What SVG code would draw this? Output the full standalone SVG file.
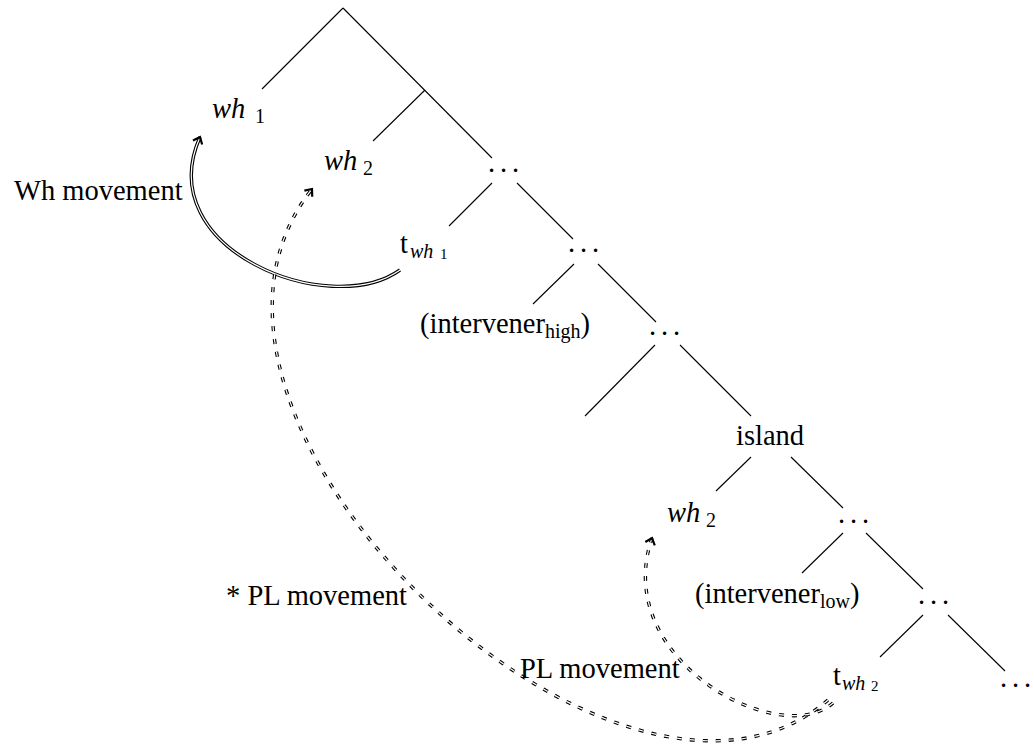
<svg xmlns="http://www.w3.org/2000/svg" width="1034" height="752" viewBox="0 0 1034 752">
<defs>
<style>
.t{font-family:'Liberation Serif','Times New Roman',Times,'Nimbus Roman','DejaVu Serif',serif;font-size:28.5px;fill:#000}
.i{font-style:italic}
.s{font-size:20px}
.ss{font-size:15px}
.edge{stroke:#000;stroke-width:1.1;fill:none}
.dbo{fill:none;stroke:#000;stroke-width:3.4}
.dbi{fill:none;stroke:#fff;stroke-width:1.2}
.dash{stroke-dasharray:5 8}
.mk{fill:none;stroke:none}
</style>
<marker id="ah" viewBox="-8 -7 10 14" markerWidth="10" markerHeight="14" refX="0" refY="0" orient="auto" markerUnits="userSpaceOnUse">
<path d="M-6,-5 L0,0 L-6,5" fill="none" stroke="#000" stroke-width="2.2" stroke-linejoin="miter"/>
</marker>
</defs>
<rect width="1034" height="752" fill="#fff"/>
<g id="connectors">
<g id="tree-edges">
<line class="edge" x1="343" y1="8" x2="262" y2="89"/>
<line class="edge" x1="343" y1="8" x2="492" y2="158"/>
<line class="edge" x1="425" y1="90" x2="373" y2="141"/>
<line class="edge" x1="492" y1="183" x2="449" y2="226"/>
<line class="edge" x1="517" y1="183" x2="573" y2="239"/>
<line class="edge" x1="574" y1="264" x2="533" y2="304"/>
<line class="edge" x1="598" y1="264" x2="656" y2="322"/>
<line class="edge" x1="655" y1="345" x2="585" y2="416"/>
<line class="edge" x1="680" y1="345" x2="751" y2="416"/>
<line class="edge" x1="751" y1="457" x2="716" y2="491"/>
<line class="edge" x1="791" y1="457" x2="843" y2="508"/>
<line class="edge" x1="843" y1="533" x2="802" y2="573"/>
<line class="edge" x1="866" y1="533" x2="923" y2="589"/>
<line class="edge" x1="923" y1="615" x2="880" y2="657"/>
<line class="edge" x1="948" y1="615" x2="1005" y2="671"/>
</g>
<g id="wh-movement">
<path class="dbo" d="M400,270 C330,320 150,250 200,137"/>
<path class="dbi" d="M400,270 C330,320 150,250 200,137"/>
<path class="mk" d="M400,270 C330,320 150,250 200,137" marker-end="url(#ah)"/>
</g>
<g id="pl-movement-star">
<path class="dbo dash" d="M828,700 C620,880 130,420 312,189"/>
<path class="dbi dash" d="M828,700 C620,880 130,420 312,189"/>
<path class="mk" d="M828,700 C620,880 130,420 312,189" marker-end="url(#ah)"/>
</g>
<g id="pl-movement">
<path class="dbo dash" d="M833,703 C780,750 610,660 652,538"/>
<path class="dbi dash" d="M833,703 C780,750 610,660 652,538"/>
<path class="mk" d="M833,703 C780,750 610,660 652,538" marker-end="url(#ah)"/>
</g>
</g>
<g id="n-wh1"><text class="t" y="118"><tspan x="212" class="i">wh</tspan><tspan x="255" y="123" class="s">1</tspan></text></g>
<g id="n-wh2"><text class="t" y="170"><tspan x="324" class="i">wh</tspan><tspan x="363" y="175" class="s">2</tspan></text></g>
<g id="n-dots1"><text class="t" x="488 500 512" y="172">...</text></g>
<g id="n-twh1"><text class="t" y="253"><tspan x="400">t</tspan><tspan x="410" y="258" class="s i">wh</tspan><tspan x="440" y="259" class="ss">1</tspan></text></g>
<g id="n-dots2"><text class="t" x="568 580 592" y="252">...</text></g>
<g id="n-intervener-high"><text class="t" x="420" y="333">(intervener<tspan class="s" dy="5">high</tspan><tspan dy="-5">)</tspan></text></g>
<g id="n-dots3"><text class="t" x="649 661 673" y="335">...</text></g>
<g id="n-island"><text class="t" x="736" y="445">island</text></g>
<g id="n-wh2-low"><text class="t" y="522"><tspan x="667" class="i">wh</tspan><tspan x="706" y="527" class="s">2</tspan></text></g>
<g id="n-dots4"><text class="t" x="838 850 862" y="523">...</text></g>
<g id="n-intervener-low"><text class="t" x="695" y="603">(intervener<tspan class="s" dy="5">low</tspan><tspan dy="-5">)</tspan></text></g>
<g id="n-dots5"><text class="t" x="918 930 942" y="604">...</text></g>
<g id="n-twh2"><text class="t" y="685"><tspan x="833">t</tspan><tspan x="842" y="690" class="s i">wh</tspan><tspan x="871" y="691" class="ss">2</tspan></text></g>
<g id="n-dots6"><text class="t" x="1000 1012 1024" y="687">...</text></g>
<g id="labels">
<text class="t" x="14" y="200">Wh movement</text>
<text class="t" x="226" y="605">* PL movement</text>
<text class="t" x="520" y="678">PL movement</text>
</g>
</svg>
